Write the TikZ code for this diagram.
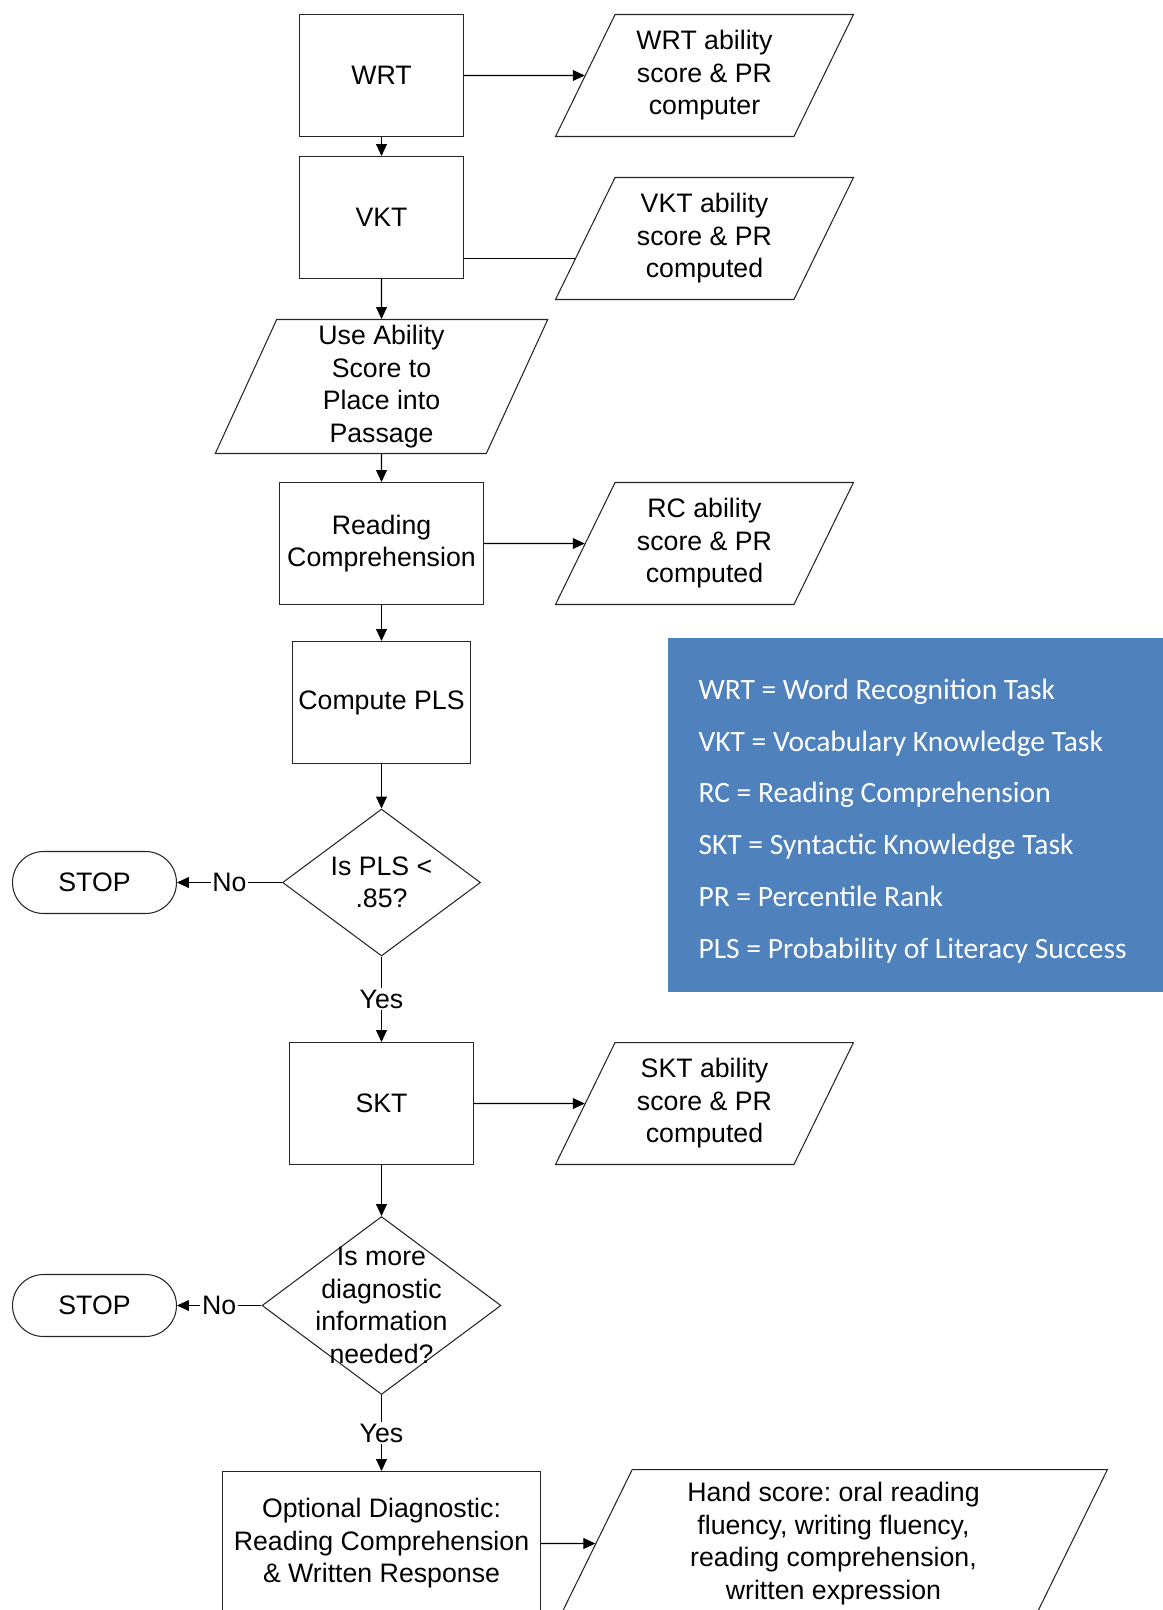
\documentclass[tikz,border=0pt]{standalone}
\usepackage{fontspec}
\setmainfont{Liberation Sans}
\newfontfamily\legendfont{Carlito}
\usetikzlibrary{shapes.geometric,arrows.meta,calc}
\definecolor{legendblue}{RGB}{79,129,189}
\tikzset{
  flow/.style={draw=black!85, line width=0.6pt, font=\fontsize{15.2}{18.5}\selectfont, align=center, inner sep=1pt},
  process/.style={flow, rectangle, minimum width=3.28cm, minimum height=2.44cm},
  data/.style={flow, trapezium, trapezium left angle=57.5, trapezium right angle=122.5, trapezium stretches body, minimum width=5.96cm, minimum height=2.44cm},
  decision/.style={flow, diamond, inner sep=0pt},
  question/.style={font=\fontsize{15.2}{18.5}\selectfont, align=center, inner sep=0pt},
  terminal/.style={flow, rectangle, rounded corners=0.62cm, minimum width=3.28cm, minimum height=1.24cm},
  answer/.style={fill=white, inner sep=1pt, font=\fontsize{15.2}{18.5}\selectfont},
  legendline/.style={anchor=base west, inner sep=0pt, text=white, font=\legendfont\fontsize{16.8}{20}\selectfont}
}
\frenchspacing
\begin{document}
\begin{tikzpicture}[x=0.02cm, y=-0.02cm, line width=0.6pt, >={Triangle[length=6.8pt,width=6.2pt]}]
\useasboundingbox (0,0) rectangle (1163,1610);
% legend
\node[fill=legendblue, minimum width=10.1cm, minimum height=7.08cm] (legend) at (920.5,815) {};
\node[legendline] (lwrt) at (698,699) {WRT = Word Recognition Task};
\node[legendline] (lvkt) at (698,751) {VKT = Vocabulary Knowledge Task};
\node[legendline] (lrc) at (698,802) {RC = Reading Comprehension};
\node[legendline] (lskt) at (698,854) {SKT = Syntactic Knowledge Task};
\node[legendline] (lpr) at (698,906) {PR = Percentile Rank};
\node[legendline] (lpls) at (698,958) {PLS = Probability of Literacy Success};
% main column
\node[process] (wrt) at (381.5,75.5) {WRT};
\node[process] (vkt) at (381.5,217.5) {VKT} edge [<-] (wrt);
\node[data, trapezium left angle=64, trapezium right angle=116, minimum width=6.65cm, minimum height=2.68cm] (place) at (381.5,386.5) {Use Ability\\Score to\\Place into\\Passage} edge [<-] (vkt);
\node[process, minimum width=4.08cm] (rc) at (381.5,543.5) {Reading\\Comprehension} edge [<-] (place);
\node[process, minimum width=3.56cm] (pls) at (381.5,702.5) {Compute PLS} edge [<-] (rc);
\node[decision, minimum width=3.96cm, minimum height=2.94cm, label={[question]center:{Is PLS <\\.85?}}] (plsq) at (381.5,882.5) {} edge [<-] (pls);
\node[terminal] (stop1) at (94.5,882.5) {STOP} edge [<-] node[answer] {No} (plsq);
\node[process, minimum width=3.68cm] (skt) at (381.5,1103.5) {SKT} edge [<-] node[answer] {Yes} (plsq);
\node[decision, minimum width=4.78cm, minimum height=3.56cm, label={[question]center:{Is more\\diagnostic\\information\\needed?}}] (moreq) at (381.5,1305.5) {} edge [<-] (skt);
\node[terminal] (stop2) at (94.5,1305.5) {STOP} edge [<-] node[answer] {No} (moreq);
\node[process, minimum width=6.36cm, minimum height=2.88cm] (optdiag) at (381.5,1543.5) {Optional Diagnostic:\\Reading Comprehension\\\& Written Response} edge [<-] node[answer] {Yes} (moreq);
% results
\node[data] (wrtout) at (704.5,75.5) {WRT ability\\score \& PR\\computer} edge [<-] (wrt);
\node[data] (vktout) at (704.5,238.5) {VKT ability\\score \& PR\\computed};
\node[data] (rcout) at (704.5,543.5) {RC ability\\score \& PR\\computed} edge [<-] (rc);
\node[data] (sktout) at (704.5,1103.5) {SKT ability\\score \& PR\\computed} edge [<-] (skt);
\node[data, trapezium left angle=60, trapezium right angle=120, minimum width=10.96cm, minimum height=2.96cm] (handscore) at (833.5,1543.5) {Hand score: oral reading\\fluency, writing fluency,\\reading comprehension,\\written expression} edge [<-] (optdiag);
% vkt result joins lower down, no head
\coordinate (vktin) at ($(vktout.bottom left corner)!0.336!(vktout.top left corner)$);
\draw (vkt.east |- vktin) -- (vktin);
\end{tikzpicture}
\end{document}
